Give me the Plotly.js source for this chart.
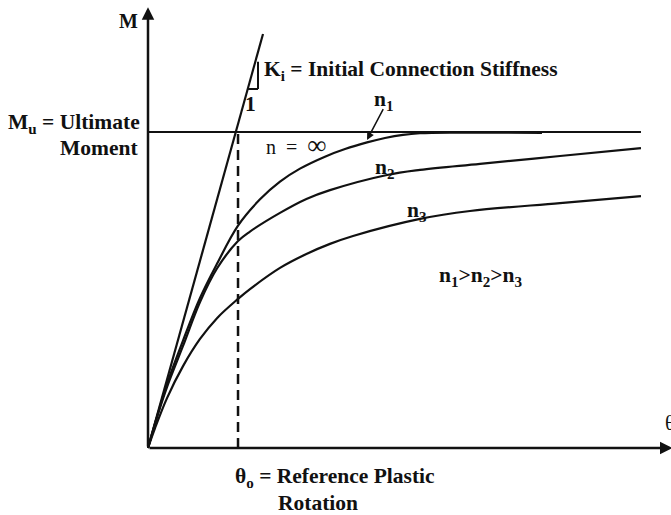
<!DOCTYPE html>
<html>
<head>
<meta charset="utf-8">
<script src="https://cdn.plot.ly/plotly-3.0.1.min.js"></script>
<style>
  html, body { margin: 0; padding: 0; background: #fff; }
  #chart { width: 671px; height: 515px; }
</style>
</head>
<body>
<div id="chart"></div>
<script>
// Moment–rotation curves of a semi-rigid connection (power model shape).
// Rotation in units of the reference plastic rotation, moment in units of Mu.

// n1 curve (sharpest knee)
const n1Theta = [0, 0.114, 0.216, 0.398, 0.591, 0.784, 1.023, 1.273, 1.5, 1.727, 2.011, 2.239, 2.489, 2.693, 2.898, 3.091, 3.5, 4.477];
const n1M     = [0, 0.110, 0.203, 0.340, 0.475, 0.583, 0.704, 0.787, 0.843, 0.884, 0.922, 0.946, 0.967, 0.981, 0.991, 0.996, 0.998, 0.997];

// n2 curve
const n2Theta = [0, 0.114, 0.216, 0.398, 0.591, 0.784, 1.023, 1.159, 1.5, 1.8, 2.068, 2.716, 3.091, 3.773, 4.682, 5.602];
const n2M     = [0, 0.108, 0.193, 0.323, 0.462, 0.568, 0.655, 0.685, 0.744, 0.788, 0.816, 0.864, 0.880, 0.899, 0.924, 0.949];

// n3 curve (most gradual)
const n3Theta = [0, 0.080, 0.216, 0.398, 0.591, 0.784, 1.023, 1.159, 1.5, 1.8, 2.068, 2.330, 3.091, 3.659, 4.682, 5.602];
const n3M     = [0, 0.063, 0.158, 0.259, 0.345, 0.411, 0.472, 0.503, 0.570, 0.614, 0.646, 0.671, 0.725, 0.750, 0.775, 0.797];

// n = infinity: initial stiffness line and ultimate moment plateau
const kiTheta = [0, 1.307];
const kiM     = [0, 1.310];
const muTheta = [0, 5.602];
const muM     = [1, 1];

// reference plastic rotation
const theta0 = 1.023;

const ink = '#111';
const serif = 'Liberation Serif, Times New Roman, serif';

function curve(x, y, shape) {
  return {
    x: x, y: y, type: 'scatter', mode: 'lines',
    line: { color: ink, width: 2.2, shape: shape || 'spline', smoothing: 1 },
    hoverinfo: 'skip', showlegend: false
  };
}

const traces = [
  curve(kiTheta, kiM, 'linear'),
  curve(muTheta, muM, 'linear'),
  curve(n1Theta, n1M),
  curve(n2Theta, n2M),
  curve(n3Theta, n3M)
];

function label(text, x, y, opts) {
  return Object.assign({
    text: text, x: x, y: y, xref: 'x', yref: 'y',
    showarrow: false, xanchor: 'center', yanchor: 'middle',
    font: { family: serif, size: 21.5, color: ink }
  }, opts || {});
}

function arrow(xTip, yTip, xTail, yTail, head, size, width) {
  return {
    text: '', x: xTip, y: yTip, ax: xTail, ay: yTail,
    xref: 'x', yref: 'y', axref: 'x', ayref: 'y',
    showarrow: true, arrowhead: head, arrowsize: size, arrowwidth: width,
    arrowcolor: ink, standoff: 0, startstandoff: 0
  };
}

const annotations = [
  // axes with arrowheads
  arrow(0, 1.395, 0, 0, 2, 1, 2.5),
  arrow(5.96, 0, 0, 0, 2, 1, 2.5),
  // n1 pointer
  arrow(2.489, 0.975, 2.682, 1.077, 2, 1, 1.5),

  label('<b>M</b>', -0.09, 1.351, { xanchor: 'right', font: { family: serif, size: 20, color: ink } }),
  label('<b>M<sub>u</sub> = Ultimate</b>', -0.065, 1.028, { xanchor: 'right' }),
  label('<b>Moment</b>', -0.091, 0.949, { xanchor: 'right' }),
  label('<b>K<sub>i</sub> = Initial Connection Stiffness</b>', 1.295, 1.196, { xanchor: 'left' }),
  label('<b>1</b>', 1.16, 1.089),
  label('n\u00a0\u00a0=\u00a0\u00a0<span style="font-size:27px">∞</span>', 1.693, 0.958,
        { font: { family: serif, size: 20, color: ink } }),
  label('<b>n<sub>1</sub></b>', 2.68, 1.101),
  label('<b>n<sub>2</sub></b>', 2.693, 0.886),
  label('<b>n<sub>3</sub></b>', 3.057, 0.747),
  label('<b>n<sub>1</sub>&gt;n<sub>2</sub>&gt;n<sub>3</sub></b>', 3.784, 0.544),
  label('θ', 5.85, 0.079, { xanchor: 'left', font: { family: serif, size: 21, color: ink } }),
  label('<b>θ<sub>o</sub> = Reference Plastic</b>', 2.12, -0.092),
  label('<b>Rotation</b>', 1.93, -0.174)
];

const shapes = [
  // dashed line at the reference plastic rotation
  { type: 'line', xref: 'x', yref: 'y', x0: theta0, x1: theta0, y0: 0, y1: 1,
    line: { color: ink, width: 2.5, dash: '10px,6px' } },
  // slope triangle on the stiffness line
  { type: 'line', xref: 'x', yref: 'y', x0: 1.25, x1: 1.25, y0: 1.222, y1: 1.136,
    line: { color: ink, width: 2 } },
  { type: 'line', xref: 'x', yref: 'y', x0: 1.136, x1: 1.25, y0: 1.136, y1: 1.136,
    line: { color: ink, width: 2 } }
];

const layout = {
  width: 671, height: 515,
  margin: { l: 0, r: 0, t: 0, b: 0, pad: 0 },
  paper_bgcolor: '#fff', plot_bgcolor: '#fff',
  xaxis: { range: [-1.6818, 5.9432], visible: false, fixedrange: true },
  yaxis: { range: [-0.2120, 1.4177], visible: false, fixedrange: true },
  showlegend: false,
  annotations: annotations,
  shapes: shapes
};

Plotly.newPlot('chart', traces, layout, { staticPlot: true, displayModeBar: false });
</script>
</body>
</html>
